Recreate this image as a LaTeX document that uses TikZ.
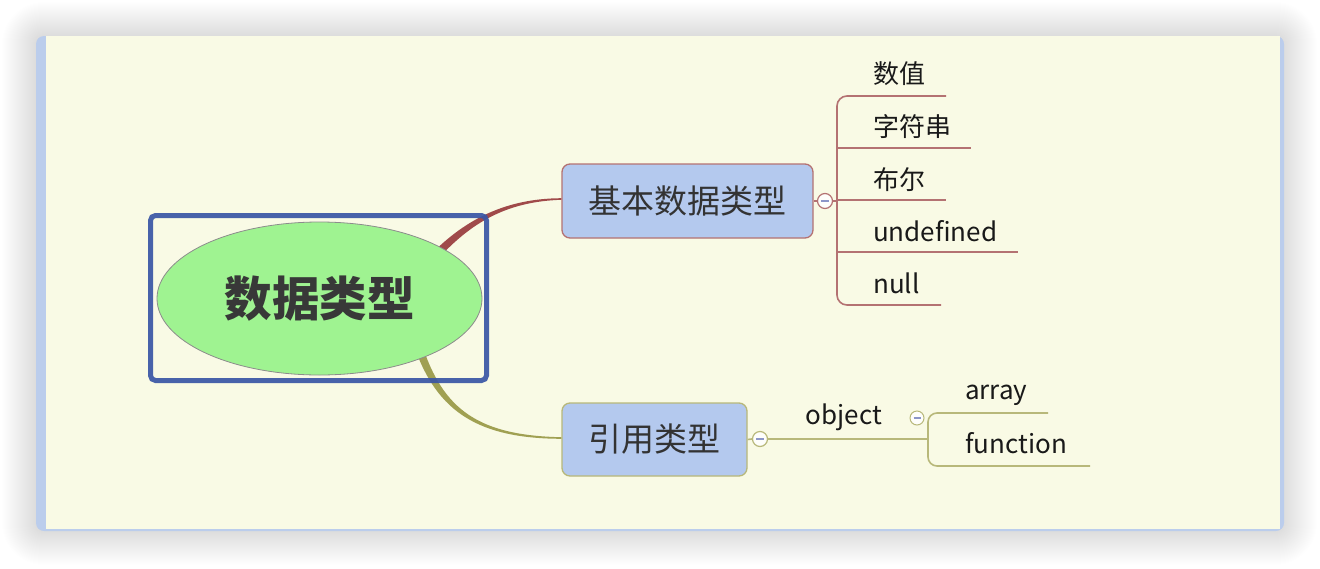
\documentclass[tikz,border=0pt]{standalone}
\usepackage{fontspec}
\newfontfamily\cjk{Noto Sans CJK SC}
\usetikzlibrary{shapes.geometric,calc}
\definecolor{bgc}{HTML}{F9FAE5}
\definecolor{frameblue}{HTML}{BBCDEC}
\definecolor{rootfill}{HTML}{9FF391}
\definecolor{selblue}{HTML}{3A56A5}
\definecolor{boxfill}{HTML}{B4C9EE}
\definecolor{redb}{HTML}{B47272}
\definecolor{redthick}{HTML}{A04A4A}
\definecolor{oliveb}{HTML}{B8B87A}
\definecolor{olivethick}{HTML}{A0A052}
\definecolor{minusc}{HTML}{8C96C8}
\definecolor{txt}{HTML}{333333}
\tikzset{
  topicbox/.style={rectangle, rounded corners=8pt, fill=boxfill, line width=1.3pt,
    inner sep=0pt, font=\cjk\fontsize{33}{33}\selectfont, text=txt},
  collapse/.style={circle, fill=white!85!bgc, line width=1.2pt, minimum size=15pt, inner sep=0pt},
  minusmark/.style={minusc, line width=1.6pt},
  itemtext/.style={anchor=west, inner sep=0pt, font=\cjk\fontsize{26}{26}\selectfont, text=black!90},
  redline/.style={redb, line width=1.6pt},
  oliveline/.style={oliveb, line width=1.6pt},
}
\begin{document}
\begin{tikzpicture}[x=1pt,y=-1pt]
\useasboundingbox (0,0) rectangle (1320,568);
% shadow
\foreach \i in {1,...,34}{
  \pgfmathsetmacro\rr{8+\i}
  \fill[black, opacity=0.0045, rounded corners=\rr pt] (36-\i,36-\i) rectangle (1283+\i,531+\i);
}
% window
\fill[frameblue, rounded corners=8pt] (36,36) rectangle (1284,531);
\fill[bgc] (46,36) rectangle (1280,529);

% topic nodes
\node[topicbox, draw=redb, minimum width=251pt, minimum height=74pt] (box1) at (687.5,201) {基本数据类型};
\node[topicbox, draw=oliveb, minimum width=185pt, minimum height=73pt] (box2) at (654.5,439.5) {引用类型};

% tapered main branches
\fill[redthick] ($(box1.west)+(0,-2.8)$) .. controls (505,198.5) and (465.8,219.9) .. (433.1,252.2)
   -- (438.9,257.8) .. controls (470.2,224.1) and (505,201.5) .. ($(box1.west)+(0,-1.2)$) -- cycle;
\fill[olivethick] ($(box2.west)+(0,-2.3)$) .. controls (480,435.5) and (442.8,410.9) .. (421.7,343.5)
   -- (414.3,346.5) .. controls (437.2,413.1) and (480,438.5) .. ($(box2.west)+(0,-0.7)$) -- cycle;

% root
\node[ellipse, draw=black!45, line width=0.8pt, fill=rootfill, minimum width=325pt, minimum height=153pt,
  inner sep=0pt, font=\cjk\bfseries\fontsize{47.5}{47.5}\selectfont, text=black!78] (root) at (319.5,298.5) {数据类型};

% selection frame
\draw[selblue, line width=5pt, rounded corners=5pt, opacity=0.92] (150.5,215.5) rectangle (486.5,380.5);

% branch 1 children
\node[collapse, draw=redb] (c1) at (825,201) {};
\draw[minusmark] ($(c1)+(-3.8,0)$) -- ($(c1)+(3.8,0)$);
\draw[redline] (box1.east) -- (c1.west);
\coordinate (j1) at (837,201);
\coordinate (u1) at (946,96);
\coordinate (u2) at (971,148);
\coordinate (u3) at (946,200);
\coordinate (u4) at (1018,252);
\coordinate (u5) at (941,305);
\draw[redline] (c1.east) -- (j1);
\draw[redline, rounded corners=10pt] (u1) -| (j1) |- (u5);
\draw[redline] (j1 |- u2) -- (u2);
\draw[redline] (j1 |- u3) -- (u3);
\draw[redline] (j1 |- u4) -- (u4);
\node[itemtext] (t1) at (873,74) {数值};
\node[itemtext] (t2) at (873,127) {字符串};
\node[itemtext] (t3) at (873,180) {布尔};
\node[itemtext] (t4) at (873,231) {undefined};
\node[itemtext] (t5) at (873,283) {null};

% branch 2 children
\node[collapse, draw=oliveb] (c2) at (760,439) {};
\draw[minusmark] ($(c2)+(-3.8,0)$) -- ($(c2)+(3.8,0)$);
\draw[oliveline] (box2.east) -- (c2.west);
\coordinate (j2) at (928,439);
\draw[oliveline] (c2.east) -- (j2);
\node[itemtext, anchor=center] (obj) at (844,417) {object};
\coordinate (v1) at (1048,413);
\coordinate (v2) at (1090,466);
\draw[oliveline, rounded corners=9pt] (v1) -| (j2) |- (v2);
\node[collapse, draw=oliveb, minimum size=14pt, line width=1pt] (c3) at (917,418) {};
\draw[minusmark] ($(c3)+(-3.5,0)$) -- ($(c3)+(3.5,0)$);
\node[itemtext] (a1) at (965,395) {array};
\node[itemtext] (a2) at (965,443) {function};
\end{tikzpicture}
\end{document}
